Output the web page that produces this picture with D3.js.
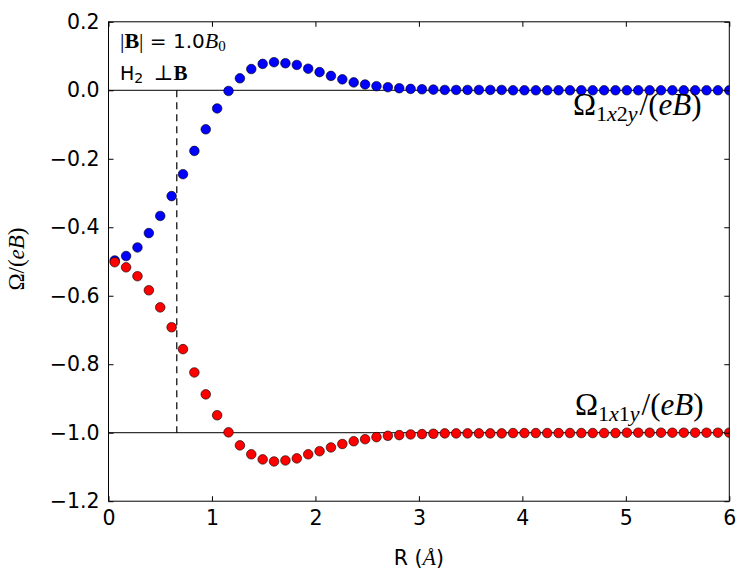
<!DOCTYPE html>
<html><head><meta charset="utf-8">
<script src="https://cdn.jsdelivr.net/npm/d3@7"></script>
<style>body{margin:0;background:#fff}svg{display:block}</style>
</head><body><svg id="c" width="746" height="579"></svg>
<script>
// Data
const R = [0.06,0.17,0.28,0.39,0.50,0.61,0.72,0.83,0.94,1.05,1.16,1.27,1.38,1.49,1.60,1.71,1.82,1.93,2.04,2.15,2.26,2.37,2.48,2.59,2.70,2.81,2.92,3.03,3.14,3.25,3.36,3.47,3.58,3.69,3.80,3.91,4.02,4.13,4.24,4.35,4.46,4.57,4.68,4.79,4.90,5.01,5.12,5.23,5.34,5.45,5.56,5.67,5.78,5.89,6.00];
const omega1x2y = [-0.497,-0.484,-0.459,-0.417,-0.367,-0.309,-0.245,-0.177,-0.114,-0.053,-0.002,0.035,0.062,0.077,0.082,0.079,0.074,0.063,0.053,0.042,0.032,0.023,0.017,0.012,0.009,0.006,0.004,0.003,0.002,0.001,0.001,0.001,0.001,0.001,0.001,0,0,0,0,0,0,0,0,0,0,0,0,0,0,0,0,0,0,0,0];
const omega1x1y = [-0.502,-0.517,-0.543,-0.584,-0.634,-0.692,-0.756,-0.824,-0.888,-0.949,-0.999,-1.037,-1.063,-1.078,-1.084,-1.081,-1.075,-1.063,-1.054,-1.043,-1.033,-1.025,-1.019,-1.013,-1.009,-1.007,-1.005,-1.004,-1.003,-1.002,-1.002,-1.002,-1.002,-1.002,-1.002,-1.001,-1.001,-1.001,-1.001,-1.001,-1.001,-1.001,-1.001,-1.001,-1.001,-1,-1,-1,-1,-1,-1,-1,-1,-1,-1];
const xTicks = [0,1,2,3,4,5,6];
const yTicks = [-1.2,-1.0,-0.8,-0.6,-0.4,-0.2,0.0,0.2];
const xDomain = [0,6], yDomain = [-1.2,0.2];
const hLines = [0,-1];
const bondR = 0.66;

const svg = d3.select('#c');
const L=108.5, Rt=729.3, T=21.8, B=501.2;
const x = d3.scaleLinear().domain(xDomain).range([L,Rt]);
const y = d3.scaleLinear().domain(yDomain).range([B,T]);
const sans = "'DejaVu Sans', sans-serif", serif = "'Liberation Serif','DejaVu Serif',serif";

svg.append('clipPath').attr('id','clip').append('rect').attr('x',L).attr('y',T).attr('width',Rt-L).attr('height',B-T);

// reference lines
svg.selectAll('line.h').data(hLines).enter().append('line')
  .attr('x1',L).attr('x2',Rt).attr('y1',d=>y(d)).attr('y2',d=>y(d))
  .attr('stroke','#000').attr('stroke-width',1);
svg.append('line').attr('x1',x(bondR)).attr('x2',x(bondR)).attr('y1',y(0)).attr('y2',y(-1))
  .attr('stroke','#000').attr('stroke-width',1.2).attr('stroke-dasharray','7,5');

const g = svg.append('g').attr('clip-path','url(#clip)');
function pts(vals,color){
  g.append('g').selectAll('circle').data(vals).enter().append('circle')
   .attr('cx',(d,i)=>x(R[i])).attr('cy',d=>y(d)).attr('r',4.8)
   .attr('fill',color).attr('stroke','#000').attr('stroke-width',0.6);
}
pts(omega1x2y,'#0000ff');
pts(omega1x1y,'#ff0000');

// axes
const tl=5;
const xb = d3.axisBottom(x).tickValues(xTicks).tickSizeInner(-tl).tickSizeOuter(0).tickPadding(9).tickFormat(d3.format('d'));
const xt = d3.axisTop(x).tickValues(xTicks).tickSizeInner(-tl).tickSizeOuter(0).tickFormat('');
const fmt = d=> (d<0?'\u2212':'')+Math.abs(d).toFixed(1);
const yl = d3.axisLeft(y).tickValues(yTicks).tickSizeInner(-tl).tickSizeOuter(0).tickPadding(9).tickFormat(fmt);
const yr = d3.axisRight(y).tickValues(yTicks).tickSizeInner(-tl).tickSizeOuter(0).tickFormat('');
function style(sel){ sel.selectAll('path').remove(); sel.selectAll('line').attr('stroke','#000'); sel.selectAll('text').attr('font-family',sans).attr('font-size',20.5).attr('fill','#000'); }
svg.append('g').attr('transform',`translate(0,${B})`).call(xb).call(style);
svg.append('g').attr('transform',`translate(0,${T})`).call(xt).call(style);
svg.append('g').attr('transform',`translate(${L},0)`).call(yl).call(style);
svg.append('g').attr('transform',`translate(${Rt},0)`).call(yr).call(style);
svg.append('rect').attr('x',L).attr('y',T).attr('width',Rt-L).attr('height',B-T).attr('fill','none').attr('stroke','#000').attr('stroke-width',1);

// labels
const xl = svg.append('text').attr('x',(L+Rt)/2).attr('y',565).attr('text-anchor','middle').attr('font-family',sans).attr('font-size',20.5);
xl.append('tspan').text('R (');
xl.append('tspan').attr('font-family',serif).attr('font-style','italic').attr('font-size',22).text('Å');
xl.append('tspan').text(')');

const ylab = svg.append('text').attr('transform','translate(24,259) rotate(-90)').attr('text-anchor','middle').attr('font-family',serif).attr('font-size',23);
ylab.append('tspan').text('Ω/(');
ylab.append('tspan').attr('font-style','italic').text('eB');
ylab.append('tspan').text(')');

function omegaLabel(xp,yp,sub){
  const t = svg.append('text').attr('x',xp).attr('y',yp).attr('font-family',serif).attr('font-size',31).attr('font-weight',300);
  t.append('tspan').text('Ω');
  const s = t.append('tspan').attr('font-size',22).attr('dy',6);
  sub.forEach(([c,it])=>s.append('tspan').attr('font-style',it?'italic':'normal').text(c));
  t.append('tspan').attr('dy',-6).attr('dx',2).text('/(');
  t.append('tspan').attr('font-style','italic').text('eB');
  t.append('tspan').text(')');
}
omegaLabel(573,115,[['1',0],['x',1],['2',0],['y',1]]);
omegaLabel(575,415,[['1',0],['x',1],['1',0],['y',1]]);

const a1 = svg.append('text').attr('x',120).attr('y',48).attr('font-size',20).attr('font-family',sans);
a1.append('tspan').attr('font-family',serif).attr('font-size',22).text('|');
a1.append('tspan').attr('font-family',serif).attr('font-size',22).attr('font-weight','bold').text('B');
a1.append('tspan').attr('font-family',serif).attr('font-size',22).text('|');
a1.append('tspan').text(' = 1.0');
a1.append('tspan').attr('font-family',serif).attr('font-style','italic').attr('font-size',22).text('B');
a1.append('tspan').attr('font-family',serif).attr('font-size',15).attr('dy',3).text('0');

const a2 = svg.append('text').attr('x',120).attr('y',80).attr('font-size',19).attr('font-family',sans);
a2.append('tspan').text('H');
a2.append('tspan').attr('font-size',14).attr('dy',3).text('2');
a2.append('tspan').attr('dy',-3).attr('font-family',serif).attr('font-size',21).text('\u2002\u22A5');
a2.append('tspan').attr('font-family',serif).attr('font-weight','bold').attr('font-size',21).text('B');
</script></body></html>
